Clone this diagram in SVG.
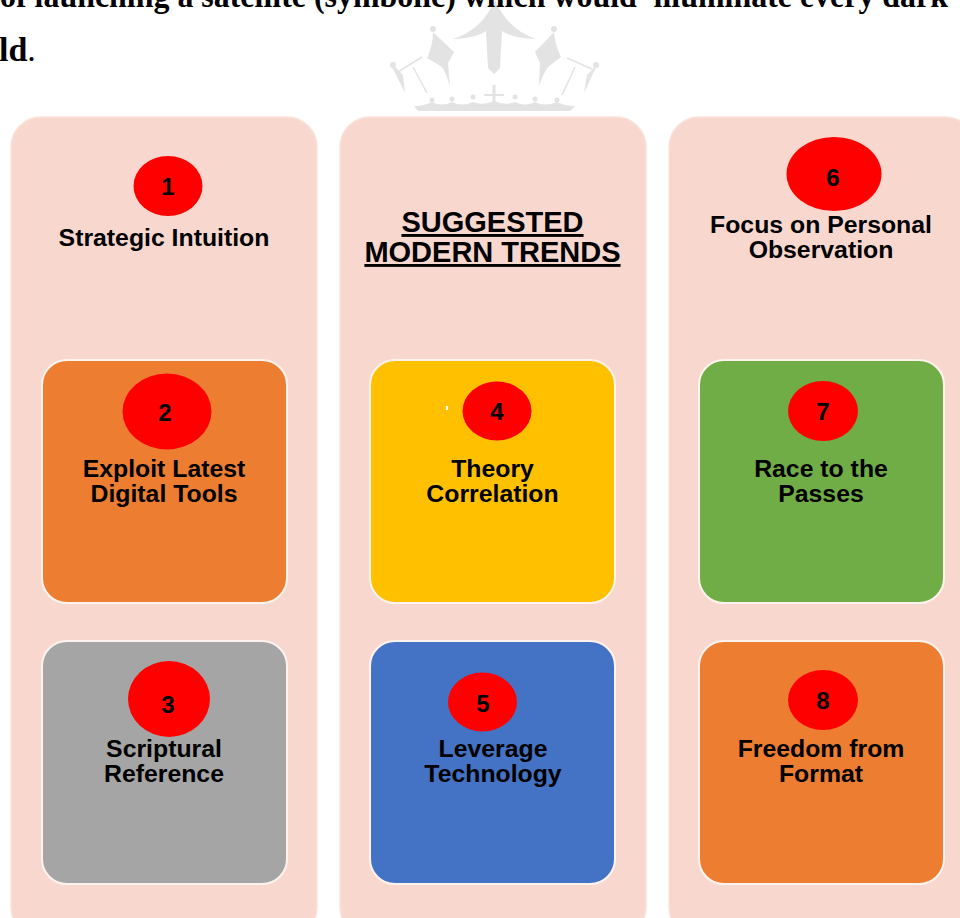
<svg xmlns="http://www.w3.org/2000/svg" width="960" height="918" viewBox="0 0 960 918">
<style>
.panel{fill:#f8d8ce;stroke:#fae2da;stroke-width:1.500}
.card{stroke:#fdf3ee;stroke-width:2}
.badge{fill:#ff0000}
text{font-family:"Liberation Sans",Arial,sans-serif;font-weight:700;fill:#000;text-anchor:middle}
.lbl{font-size:24.800px}
.num{font-size:24px}
.head{font-size:29px;text-decoration:underline}
.body{font-family:"Liberation Serif","Times New Roman",serif;font-size:34px;text-anchor:start}
.wm{fill:#e3e3e3}
.wl{fill:none;stroke:#e3e3e3;stroke-width:1.500}
</style>
<rect width="960" height="918" fill="#fff"/>
<g id="watermark">
<path class="wm" d="M495 0Q482 30 453 39Q476 38 486 31L488 68L494 74L500 68L502 31Q512 38 536 39Q508 30 495 0Z"/>
<circle class="wm" cx="433" cy="29" r="3"/>
<path class="wm" d="M433 32L454 52L448 63L450 87Q446 72 442 67L427 58Q433 45 433 32Z"/>
<circle class="wm" cx="554" cy="29" r="3"/>
<path class="wm" d="M554 32L535 52L540 63L539 86Q544 72 548 67L561 57Q555 45 554 32Z"/>
<circle class="wm" cx="393" cy="65" r="3"/>
<path class="wm" d="M392 67L405 93L403 75L399 71L394 66Z"/>
<path class="wl" d="M398 72L422 57M413 67L427 93"/>
<circle class="wm" cx="596" cy="65" r="3"/>
<path class="wm" d="M596 67L584 93L587 75L591 71L595 66Z"/>
<path class="wl" d="M592 69L567 58M575 67L562 95"/>
<path class="wm" d="M414 106Q424 106 432 102Q442 107 452 102Q462 107 473 102Q483 106 494 101Q505 106 515 102Q525 107 535 102Q545 107 557 102Q565 106 575 106L570 111H418Z"/>
<g class="wm"><circle cx="432" cy="100" r="2.500"/><circle cx="452" cy="99" r="2.500"/><circle cx="473" cy="97" r="2.500"/><circle cx="515" cy="97" r="2.500"/><circle cx="535" cy="99" r="2.500"/><circle cx="557" cy="100" r="2.500"/><rect x="492.500" y="85" width="3" height="20"/><rect x="484" y="94" width="20" height="2"/></g>
</g>
<g id="page-text">
<text class="body" x="0" y="7" textLength="948" lengthAdjust="spacingAndGlyphs">of launching a satellite (symbolic) which would 'illuminate every dark</text>
<text class="body" x="-1" y="61">ld<tspan font-weight="400">.</tspan></text>
</g>
<g id="panel-left"><rect class="panel" x="11" y="117" width="306" height="820" rx="30"/></g>
<g id="panel-center"><rect class="panel" x="340" y="117" width="306" height="820" rx="30"/></g>
<g id="panel-right"><rect class="panel" x="669" y="117" width="306" height="820" rx="30"/></g>
<g id="node-1"><ellipse class="badge" cx="168" cy="186" rx="34.500" ry="30"/><text class="num" x="168" y="195">1</text><text class="lbl" x="164" y="246">Strategic Intuition</text></g>
<g id="title"><text class="head" x="492.500" y="232">SUGGESTED</text><text class="head" x="492.500" y="262">MODERN TRENDS</text></g>
<g id="node-6"><ellipse class="badge" cx="834" cy="174" rx="47.500" ry="37"/><text class="num" x="833" y="186">6</text><text class="lbl" x="821" y="233">Focus on Personal</text><text class="lbl" x="821" y="258">Observation</text></g>
<g id="node-2"><rect class="card" x="42" y="360" width="245" height="243" rx="25" fill="#ed7d31"/><ellipse class="badge" cx="167" cy="411.500" rx="44.500" ry="38"/><text class="num" x="165" y="421">2</text><text class="lbl" x="164" y="477">Exploit Latest</text><text class="lbl" x="164" y="502">Digital Tools</text></g>
<g id="node-4"><rect class="card" x="370" y="360" width="245" height="243" rx="25" fill="#ffc000"/><rect x="446" y="406" width="2" height="4" fill="#fff"/><ellipse class="badge" cx="497" cy="411" rx="34.500" ry="29.500"/><text class="num" x="497" y="420">4</text><text class="lbl" x="492.500" y="477">Theory</text><text class="lbl" x="492.500" y="502">Correlation</text></g>
<g id="node-7"><rect class="card" x="699" y="360" width="245" height="243" rx="25" fill="#70ad47"/><ellipse class="badge" cx="823" cy="411" rx="35" ry="30"/><text class="num" x="823" y="420">7</text><text class="lbl" x="821" y="477">Race to the</text><text class="lbl" x="821" y="502">Passes</text></g>
<g id="node-3"><rect class="card" x="42" y="641" width="245" height="243" rx="25" fill="#a5a5a5"/><ellipse class="badge" cx="169" cy="699" rx="41" ry="38"/><text class="num" x="168" y="713">3</text><text class="lbl" x="164" y="757">Scriptural</text><text class="lbl" x="164" y="782">Reference</text></g>
<g id="node-5"><rect class="card" x="370" y="641" width="245" height="243" rx="25" fill="#4472c4"/><ellipse class="badge" cx="482.500" cy="702" rx="34.500" ry="29.500"/><text class="num" x="483" y="712">5</text><text class="lbl" x="493" y="757">Leverage</text><text class="lbl" x="493" y="782">Technology</text></g>
<g id="node-8"><rect class="card" x="699" y="641" width="245" height="243" rx="25" fill="#ed7d31"/><ellipse class="badge" cx="823" cy="700" rx="35" ry="30"/><text class="num" x="823" y="709">8</text><text class="lbl" x="821" y="757">Freedom from</text><text class="lbl" x="821" y="782">Format</text></g>
<g id="connectors"/>
</svg>
